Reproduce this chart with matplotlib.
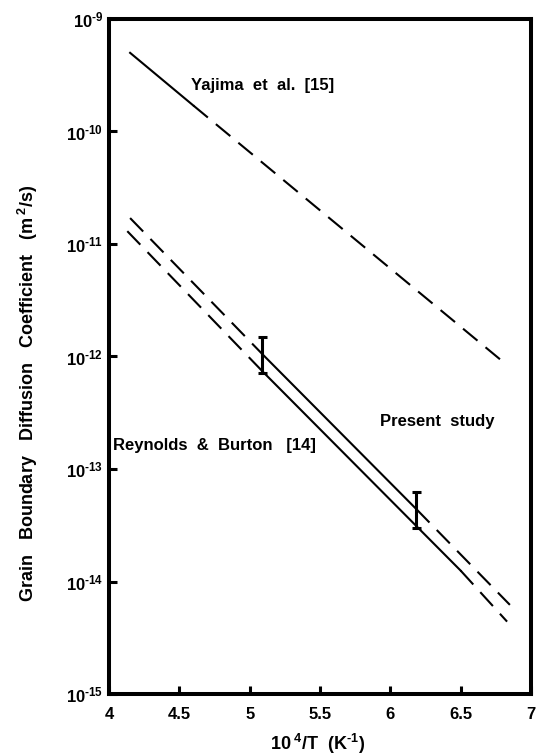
import matplotlib
matplotlib.use("Agg")
import matplotlib.pyplot as plt
import numpy as np

plt.rcParams['font.family'] = ['Liberation Sans', 'DejaVu Sans']
plt.rcParams['lines.scale_dashes'] = False
plt.rcParams['mathtext.fontset'] = 'custom'
plt.rcParams['mathtext.rm'] = 'Liberation Sans:bold'
plt.rcParams['mathtext.bf'] = 'Liberation Sans:bold'
plt.rcParams['mathtext.it'] = 'Liberation Sans:bold'
plt.rcParams['mathtext.default'] = 'rm'

# Yajima et al. [15]
yaj_solid_x = [4.15, 4.60]
yaj_solid_d = [5.0e-10, 1.7e-10]
yaj_dash_x = [4.60, 6.80]
yaj_dash_d = [1.7e-10, 9.0e-13]

# Reynolds & Burton [14] upper / lower
rb_up_dash1_x = [4.15, 5.09]
rb_up_dash1_d = [1.7e-11, 1.05e-12]
rb_up_solid_x = [5.09, 6.185]
rb_up_solid_d = [1.05e-12, 4.4e-14]
rb_up_dash2_x = [6.185, 6.85]
rb_up_dash2_d = [4.4e-14, 6.2e-15]

rb_lo_dash1_x = [4.13, 5.09]
rb_lo_dash1_d = [1.3e-11, 7.4e-13]
rb_lo_solid_x = [5.09, 6.50]
rb_lo_solid_d = [7.4e-13, 1.25e-14]
rb_lo_dash2_x = [6.50, 6.83]
rb_lo_dash2_d = [1.25e-14, 4.4e-15]

# Present study error bars
err_x = [5.09, 6.185]
err_lo = [7.2e-13, 3.0e-14]
err_hi = [1.48e-12, 6.2e-14]

y_exps = [-15, -14, -13, -12, -11, -10, -9]
y_labels = [r'10$^{\text{%d}}$' % k for k in y_exps]
x_ticks = [4, 4.5, 5, 5.5, 6, 6.5, 7]
x_labels = ['4', '4.5', '5', '5.5', '6', '6.5', '7']

fig = plt.figure(figsize=(5.37, 7.56), dpi=100)
ax = fig.add_axes([0.203, 0.082, 0.7858, 0.8929])
ax.set_yscale('log')
ax.set_xlim(4, 7)
ax.set_ylim(1e-15, 1e-9)

lw = 1.5
dash = (0, (13.5, 7.5))
ax.plot(yaj_solid_x, yaj_solid_d, color='black', lw=lw)
ax.plot(yaj_dash_x, yaj_dash_d, color='black', lw=lw, linestyle=dash)
ax.plot(rb_up_dash1_x, rb_up_dash1_d, color='black', lw=lw, linestyle=dash)
ax.plot(rb_up_solid_x, rb_up_solid_d, color='black', lw=lw)
ax.plot(rb_up_dash2_x, rb_up_dash2_d, color='black', lw=lw, linestyle=dash)
ax.plot(rb_lo_dash1_x, rb_lo_dash1_d, color='black', lw=lw, linestyle=dash)
ax.plot(rb_lo_solid_x, rb_lo_solid_d, color='black', lw=lw)
ax.plot(rb_lo_dash2_x, rb_lo_dash2_d, color='black', lw=lw, linestyle=dash)

ax.vlines(err_x, err_lo, err_hi, color='black', lw=2.2)
ax.hlines(err_hi, np.array(err_x) - 0.03, np.array(err_x) + 0.03, color='black', lw=2.2)
ax.hlines(err_lo, np.array(err_x) - 0.03, np.array(err_x) + 0.03, color='black', lw=2.2)

tkw = dict(fontsize=12, fontweight='bold', va='center')
ax.text(4.585, 10**-9.59, 'Yajima  et  al.  [15]', ha='left', **tkw)
ax.text(4.03, 10**-12.79, 'Reynolds  &  Burton   [14]', ha='left', **tkw)
ax.text(5.93, 10**-12.58, 'Present  study', ha='left', **tkw)

for s in ax.spines.values():
    s.set_linewidth(2.9)

ax.set_xticks(x_ticks)
ax.set_xticklabels(x_labels, fontsize=12, fontweight='bold')
ax.set_yticks([10.0**k for k in y_exps])
ax.set_yticklabels(y_labels, fontsize=12, fontweight='bold')
ax.minorticks_off()
ax.tick_params(axis='both', direction='in', length=6, width=2.2, top=False, right=False)
ax.tick_params(axis='x', pad=9)
ax.tick_params(axis='y', pad=4)

ax.set_xlabel(r'10$^{\text{ 4}}$/T  (K$^{\text{-1}}$)', fontsize=13, fontweight='bold')
ax.set_ylabel(r'Grain   Boundary   Diffusion   Coefficient   (m$^{\text{ 2}}$/s)', fontsize=13, fontweight='bold')
ax.xaxis.set_label_coords(0.495, -0.056)
ax.yaxis.set_label_coords(-0.163, 0.446)

fig.savefig('out.png', dpi=100)
